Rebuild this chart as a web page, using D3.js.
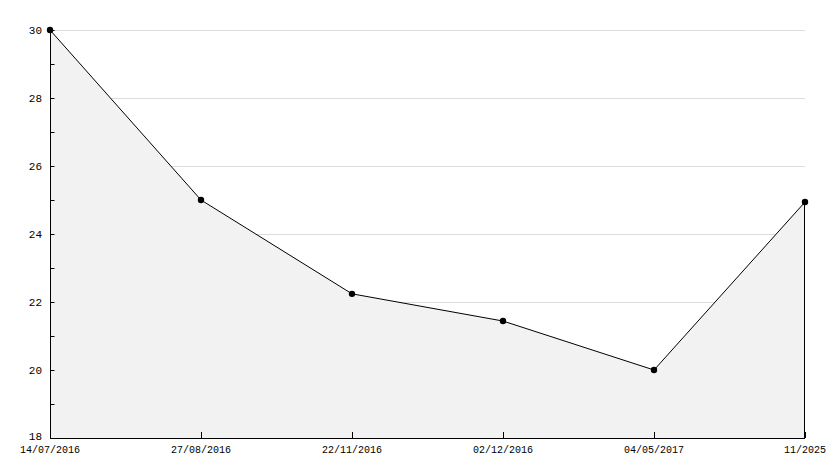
<!DOCTYPE html>
<html><head><meta charset="utf-8">
<script src="https://cdn.jsdelivr.net/npm/d3@7"></script>
<style>body{margin:0;background:#fff}svg{display:block}</style>
</head><body>
<script>
const categories = ["14/07/2016","27/08/2016","22/11/2016","02/12/2016","04/05/2017","11/2025"];
const values = [30, 25, 22.24, 21.44, 20, 24.94];
const yMajorTicks = [18,20,22,24,26,28,30];
const yMinorTicks = [19,21,23,25,27,29];

const W = 834, H = 468;
const m = {left:50, right:29, top:30, bottom:30};
const svg = d3.select("body").append("svg").attr("width",W).attr("height",H);
const x = d3.scalePoint().domain(categories).range([m.left, W-m.right]);
const y = d3.scaleLinear().domain([18,30]).range([H-m.bottom, m.top]);
const data = categories.map((c,i)=>({c, v:values[i]}));
const font = "'Liberation Mono', monospace";

// gridlines
svg.append("g").selectAll("line").data(yMajorTicks.filter(d=>d>18)).join("line")
  .attr("x1",m.left).attr("x2",W-m.right).attr("y1",d=>Math.round(y(d))+0.5).attr("y2",d=>Math.round(y(d))+0.5)
  .attr("stroke","#dcdcdc").attr("stroke-width",1);

// area
const area = d3.area().x(d=>x(d.c)).y0(y(18)).y1(d=>y(d.v));
svg.append("path").datum(data).attr("d",area).attr("fill","#f2f2f2");
const line = d3.line().x(d=>x(d.c)).y(d=>y(d.v));
svg.append("path").datum(data).attr("d",line).attr("fill","none").attr("stroke","#000").attr("stroke-width",1);
// right edge
const last = data[data.length-1];
svg.append("line").attr("x1",x(last.c)-0.5).attr("x2",x(last.c)-0.5).attr("y1",y(last.v)).attr("y2",y(18))
  .attr("stroke","#000").attr("stroke-width",1);

// y axis
const yAxis = d3.axisRight(y).tickValues(yMajorTicks).tickSize(4).tickFormat("");
const gy = svg.append("g").attr("transform",`translate(${m.left+0.5},0)`).call(yAxis);
gy.select(".domain").remove();
gy.selectAll("line").attr("stroke","#000");
svg.append("g").attr("transform",`translate(${m.left+0.5},0)`).call(d3.axisRight(y).tickValues(yMinorTicks).tickSize(4).tickFormat(""))
  .call(g=>g.select(".domain").remove()).selectAll("line").attr("stroke","#000");
svg.append("line").attr("x1",m.left+0.5).attr("x2",m.left+0.5).attr("y1",m.top).attr("y2",y(18)).attr("stroke","#000");
svg.append("g").selectAll("text").data(yMajorTicks).join("text")
  .attr("x",42).attr("y",d=>d===18? y(d)+2 : y(d)+4).attr("text-anchor","end")
  .attr("font-family",font).attr("font-size",11).attr("fill","#000").text(d=>d);

// x axis
svg.append("line").attr("x1",m.left).attr("x2",W-m.right).attr("y1",y(18)+0.5).attr("y2",y(18)+0.5).attr("stroke","#000");
const gx = svg.append("g").attr("transform",`translate(0,${y(18)})`)
  .call(d3.axisTop(x).tickSize(6).tickFormat(""));
gx.select(".domain").remove();
gx.selectAll("line").attr("stroke","#000");
svg.append("g").selectAll("text").data(categories).join("text")
  .attr("x",d=>x(d)).attr("y",y(18)+15).attr("text-anchor","middle")
  .attr("font-family",font).attr("font-size",10).attr("fill","#000").text(d=>d);

// markers
svg.append("g").selectAll("circle").data(data).join("circle")
  .attr("cx",d=>x(d.c)).attr("cy",d=>y(d.v)).attr("r",3.2).attr("fill","#000");
</script>
</body></html>
